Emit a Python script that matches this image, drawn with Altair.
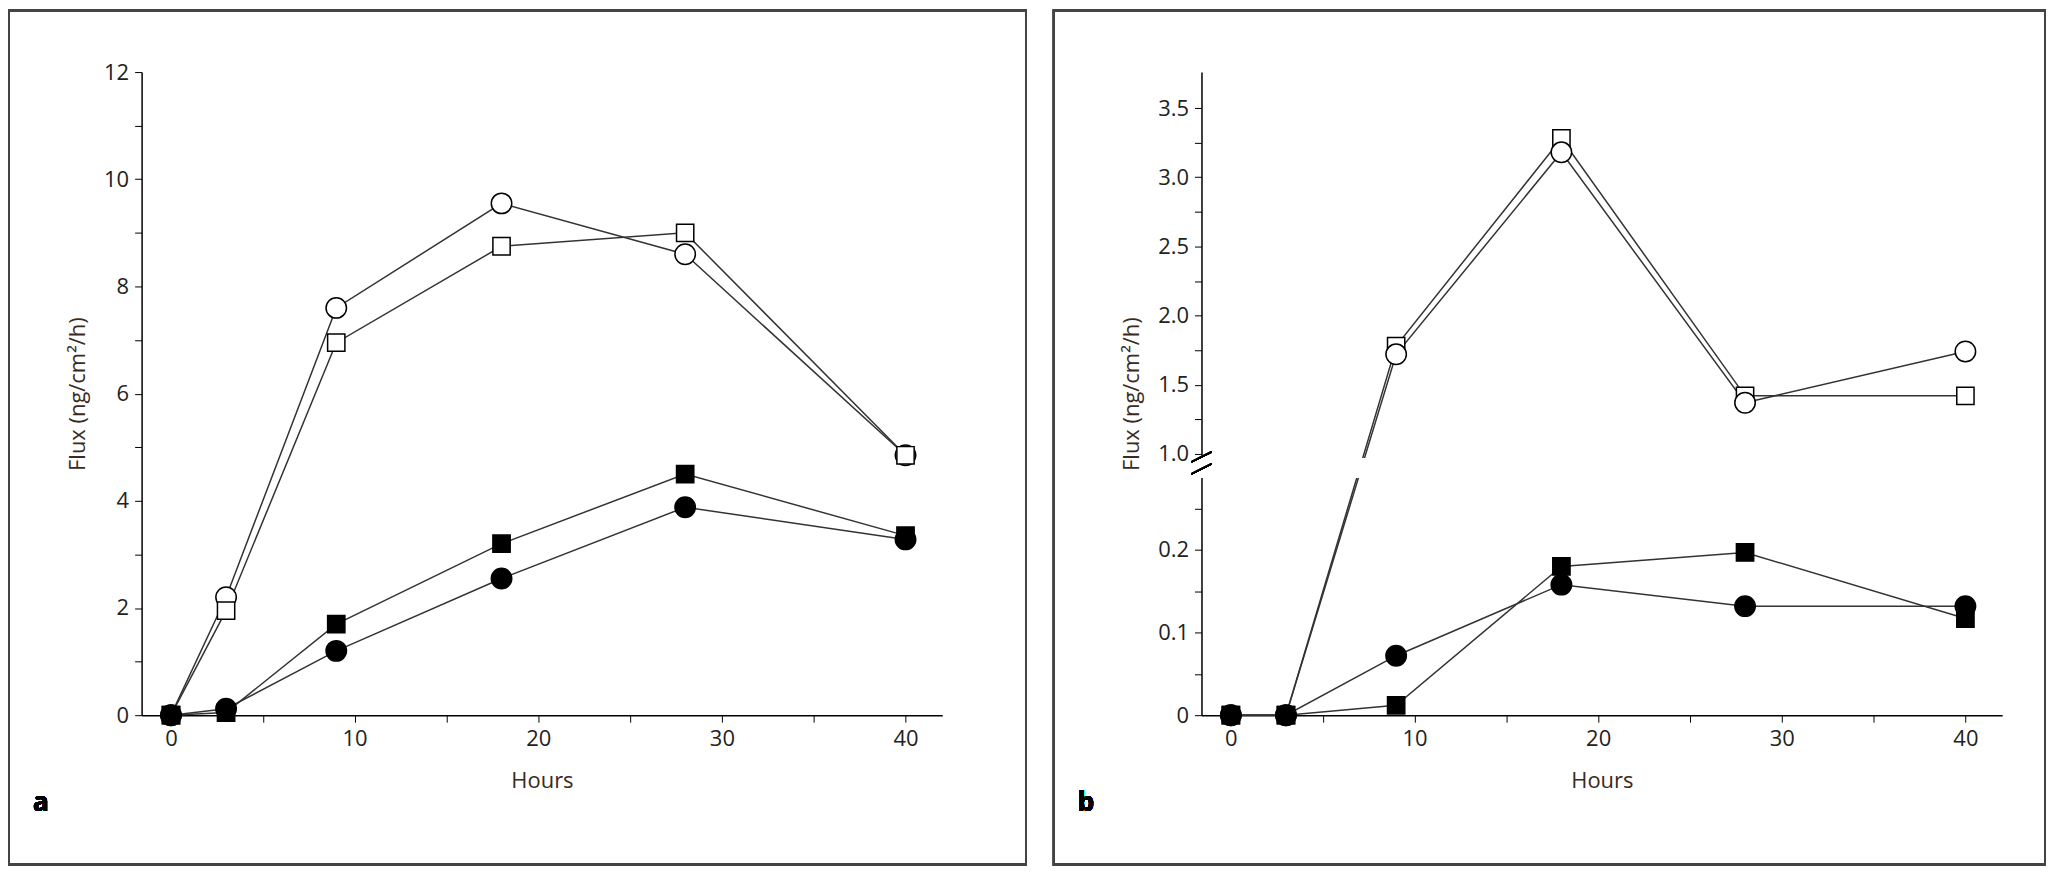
import altair as alt
import pandas as pd

hours = [0, 3, 9, 18, 28, 40]

# panel a
a_open_circle = [0, 2.2, 7.6, 9.55, 8.6, 4.85]
a_open_square = [0, 1.95, 6.95, 8.75, 9.0, 4.85]
a_fill_square = [0, 0.05, 1.7, 3.2, 4.5, 3.35]
a_fill_circle = [0, 0.12, 1.2, 2.55, 3.88, 3.28]

# panel b
b_open_square = [0, 0, 1.78, 3.28, 1.42, 1.42]
b_open_circle = [0, 0, 1.72, 3.18, 1.37, 1.74]
b_fill_square = [0, 0, 0.012, 0.18, 0.197, 0.117]
b_fill_circle = [0, 0, 0.072, 0.158, 0.132, 0.132]

x_ticks = [0, 5, 10, 15, 20, 25, 30, 35, 40]
a_ticks = [0, 1, 2, 3, 4, 5, 6, 7, 8, 9, 10, 11, 12]
b_ticks = [0, 0.05, 0.1, 0.15, 0.2, 0.25, 1.0, 1.25, 1.5, 1.75, 2.0, 2.25,
           2.5, 2.75, 3.0, 3.25, 3.5]

W, H = 803, 645
FONT = "Open Sans"


def frame(series):
    rows = []
    for name, (vals, shape, fill) in series.items():
        for h, v in zip(hours, vals):
            rows.append({"s": name, "h": h, "v": v, "shape": shape, "fill": fill})
    return pd.DataFrame(rows)


def panel(df, yscale, yaxis, letter, box_l, box_r, extra=None):
    base = alt.Chart(df)
    x = alt.X("h:Q", scale=alt.Scale(domain=[-1.6, 42], nice=False, zero=False),
              axis=alt.Axis(values=x_ticks, title="Hours",
                            labelExpr="datum.value % 10 == 0 ? datum.label : ''"))
    y = alt.Y("v:Q", scale=yscale, axis=yaxis)
    lines = base.mark_line(color="#333", strokeWidth=1.5).encode(x=x, y=y, detail="s:N")
    pts = base.mark_point(filled=True, stroke="black", strokeWidth=1.5, opacity=1).encode(
        x=x, y=y,
        shape=alt.Shape("shape:N", scale=None),
        fill=alt.Fill("fill:N", scale=None),
        size=alt.condition("datum.shape == 'circle'", alt.value(420), alt.value(300)),
    )
    box = alt.Chart(df).mark_rect(fill=None, stroke="#444", strokeWidth=2).encode(
        x=alt.value(box_l), x2=alt.value(box_r), y=alt.value(-62), y2=alt.value(H + 150))
    lab = alt.Chart(df).mark_text(text=letter, font=FONT, fontSize=26, fontWeight="bold",
                                  align="left").encode(x=alt.value(box_l + 24), y=alt.value(H + 88))
    layers = [box, lines]
    if extra:
        layers += extra
    layers += [pts, lab]
    return alt.layer(*layers).properties(width=W, height=H)


dfa = frame({
    "oc": (a_open_circle, "circle", "white"),
    "os": (a_open_square, "square", "white"),
    "fs": (a_fill_square, "square", "black"),
    "fc": (a_fill_circle, "circle", "black"),
})
dfb = frame({
    "os": (b_open_square, "square", "white"),
    "oc": (b_open_circle, "circle", "white"),
    "fs": (b_fill_square, "square", "black"),
    "fc": (b_fill_circle, "circle", "black"),
})

title = "Flux (ng/cm²/h)"
pa = panel(
    dfa,
    alt.Scale(domain=[0, 12], nice=False),
    alt.Axis(values=a_ticks, title=title,
             labelExpr="datum.value % 2 == 0 ? datum.label : ''"),
    "a", -133, W + 84,
)

brk = 383
band = alt.Chart(dfb).mark_rect(fill="white").encode(
    x=alt.value(-8), x2=alt.value(W), y=alt.value(brk + 4), y2=alt.value(brk + 24))
slash1 = alt.Chart(dfb).mark_rule(color="black", strokeWidth=1.5).encode(
    x=alt.value(-10), x2=alt.value(10), y=alt.value(brk + 8), y2=alt.value(brk - 2))
slash2 = alt.Chart(dfb).mark_rule(color="black", strokeWidth=1.5).encode(
    x=alt.value(-10), x2=alt.value(10), y=alt.value(brk + 20), y2=alt.value(brk + 10))
pb = panel(
    dfb,
    alt.Scale(domain=[0, 0.28, 1.0, 3.76], range=[H, H - 232, H - 262, 0], nice=False, zero=False),
    alt.Axis(values=b_ticks, title=title,
             labelExpr="datum.value == 0 ? '0' : (round(datum.value * 100) % 50 == 0 || (datum.value < 0.3 && round(datum.value * 100) % 10 == 0)) ? format(datum.value, '.1f') : ''"),
    "b", -148, W + 43,
    extra=[band, slash1, slash2],
)

chart = alt.hconcat(pa, pb, spacing=26).properties(padding=0).configure_axis(
    labelFont=FONT, titleFont=FONT, labelFontSize=22, titleFontSize=22,
    labelColor="#222", titleColor="#3a2a20", titleFontWeight="normal",
    domainColor="black", tickColor="black", grid=False, tickSize=7,
    domainWidth=1.5, labelPadding=6,
).configure_axisX(titlePadding=22).configure_axisY(titlePadding=14).configure_view(
    stroke=None)

chart.save("out.html", embed_options={"renderer": "svg", "actions": False})
